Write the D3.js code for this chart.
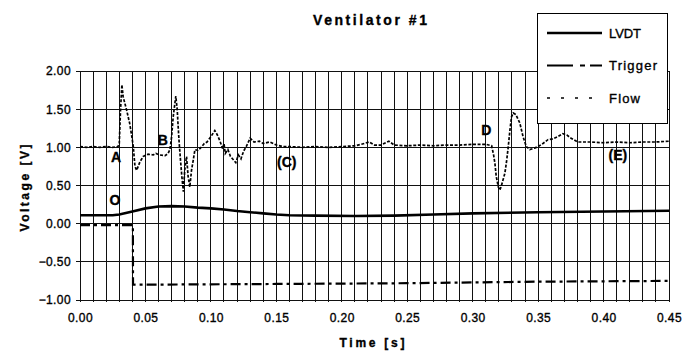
<!DOCTYPE html>
<html>
<head>
<meta charset="utf-8">
<script src="https://cdn.jsdelivr.net/npm/d3@7"></script>
<style>
	body{margin:0;background:#fff;}
	svg text{font-family:"Liberation Sans",Arial,Helvetica,sans-serif;fill:#000;}
	svg text.ink{stroke:#000;stroke-width:0.35px;}
</style>
</head>
<body>
<svg id="chart" width="696" height="352"></svg>
<script>
var X_TICKS = [0, 0.05, 0.10, 0.15, 0.20, 0.25, 0.30, 0.35, 0.40, 0.45];
var Y_TICKS = [-1, -0.5, 0, 0.5, 1, 1.5, 2];
var SERIES = ["LVDT", "Trigger", "Flow"];

// [time s, voltage V]
var LVDT = [[0,0.11],[0.025,0.11],[0.03,0.12],[0.035,0.14],[0.04,0.16],[0.05,0.20],[0.06,0.225],[0.07,0.23],[0.08,0.225],
	[0.09,0.21],[0.10,0.20],[0.11,0.185],[0.12,0.165],[0.13,0.15],[0.14,0.135],[0.15,0.12],[0.16,0.11],[0.18,0.105],
	[0.21,0.10],[0.24,0.105],[0.27,0.12],[0.30,0.135],[0.35,0.15],[0.40,0.16],[0.45,0.17]];

var TRIGGER = [[0,-0.02],[0.0404,-0.02],[0.0405,-0.80],[0.15,-0.79],[0.25,-0.78],[0.35,-0.76],[0.45,-0.75]];

var FLOW = [[0.000,1.01],[0.005,1.00],[0.010,1.01],[0.015,1.00],[0.020,1.01],[0.025,1.00],[0.029,1.01],
	[0.030,1.05],[0.031,1.50],[0.032,1.82],[0.033,1.66],[0.0356,1.49],[0.038,1.31],[0.0396,1.14],[0.0407,1.01],
	[0.042,0.75],[0.0433,0.70],[0.0458,0.81],[0.0483,0.88],[0.052,0.91],[0.056,0.90],[0.058,0.92],[0.061,0.90],
	[0.065,0.89],[0.0673,0.92],[0.0687,0.97],
	[0.070,1.14],[0.0712,1.40],[0.0725,1.58],[0.0732,1.67],[0.0743,1.49],[0.075,1.27],[0.0758,1.05],[0.0768,0.83],
	[0.0778,0.62],[0.079,0.42],[0.080,0.70],[0.0814,0.88],[0.0826,0.62],[0.0839,0.48],[0.0852,0.70],[0.0865,0.83],[0.0878,0.97],
	[0.090,0.96],[0.092,0.99],[0.095,1.05],[0.097,1.07],[0.100,1.14],[0.103,1.22],[0.105,1.16],[0.107,1.08],[0.109,0.98],
	[0.110,1.05],[0.111,0.92],[0.113,0.97],[0.115,0.88],[0.117,0.84],[0.119,0.80],[0.121,0.90],[0.123,0.85],[0.125,0.95],
	[0.127,1.01],[0.130,1.12],[0.133,1.07],[0.137,1.08],[0.140,1.05],[0.145,1.07],[0.150,1.03],[0.155,1.01],[0.160,1.01],
	[0.170,1.00],[0.180,1.01],[0.190,1.00],[0.200,1.01],[0.210,1.02],[0.215,1.04],[0.221,1.07],[0.225,1.03],[0.230,1.03],
	[0.236,1.08],[0.240,1.03],[0.250,1.02],[0.260,1.03],[0.270,1.02],[0.280,1.03],[0.290,1.03],[0.300,1.04],[0.310,1.04],[0.3145,1.02],
	[0.316,0.90],[0.317,0.79],[0.318,0.62],[0.3196,0.48],[0.3208,0.44],[0.322,0.50],[0.3246,0.66],[0.326,0.83],[0.3272,1.01],
	[0.3285,1.23],[0.3297,1.40],[0.331,1.45],[0.333,1.43],[0.336,1.32],[0.3385,1.14],[0.341,1.01],[0.3436,0.97],[0.3473,0.99],
	[0.350,1.01],[0.3537,1.05],[0.3575,1.10],[0.361,1.11],[0.365,1.14],[0.3689,1.18],[0.372,1.16],[0.3752,1.12],[0.3802,1.07],
	[0.390,1.07],[0.400,1.06],[0.410,1.07],[0.420,1.06],[0.430,1.07],[0.440,1.07],[0.450,1.08]];

// point labels written on the chart
var NOTES = [{txt:"A", t:0.0275, v:0.81}, {txt:"B", t:0.0633, v:1.03}, {txt:"(C)", t:0.158, v:0.74},
	{txt:"D", t:0.3105, v:1.16}, {txt:"(E)", t:0.411, v:0.83}, {txt:"O", t:0.0267, v:0.245}];

(function(){

	var svg = d3.select("#chart");

	var x = d3.scaleLinear().domain([0, 0.45]).range([80, 669]);
	var y = d3.scaleLinear().domain([-1, 2]).range([300, 71]);

	var fmt = d3.format(".2f");

	//GRID
	var grid = svg.append("g").attr("stroke", "#111").attr("stroke-width", 1).style("shape-rendering", "crispEdges");
	var minor = d3.range(0, 46).map(function(i){return i/100});
	grid.selectAll("line.v").data(minor).enter().append("line")
		.attr("x1", function(d){return x(d)}).attr("x2", function(d){return x(d)})
		.attr("y1", y(2)).attr("y2", y(-1) + 2);
	grid.selectAll("line.h").data(Y_TICKS).enter().append("line")
		.attr("x1", x(0) - 4).attr("x2", x(0.45))
		.attr("y1", function(d){return y(d)}).attr("y2", function(d){return y(d)});

	//AXES
	var yAxis = svg.append("g").attr("transform", "translate(" + x(0) + ",0)")
		.call(d3.axisLeft(y).tickValues(Y_TICKS).tickFormat(fmt).tickSize(0).tickPadding(9));
	var xAxis = svg.append("g").attr("transform", "translate(0," + y(-1) + ")")
		.call(d3.axisBottom(x).tickValues(X_TICKS).tickFormat(fmt).tickSize(0).tickPadding(13));
	svg.selectAll(".domain").remove();
	svg.selectAll(".tick text").classed("ink", true).style("font-size", "12px").attr("fill", "#000").style("letter-spacing", "0.4px");

	//SERIES
	var line = d3.line().x(function(d){return x(d[0])}).y(function(d){return y(d[1])});

	svg.append("path").datum(TRIGGER).attr("d", line)
		.attr("fill", "none").attr("stroke", "#000").attr("stroke-width", 2.2)
		.attr("stroke-dasharray", "10,4,3,4");

	svg.append("path").datum(LVDT).attr("d", line)
		.attr("fill", "none").attr("stroke", "#000").attr("stroke-width", 2.6);

	svg.append("path").datum(FLOW).attr("d", line)
		.attr("fill", "none").attr("stroke", "#000").attr("stroke-width", 1.7)
		.attr("stroke-dasharray", "3,1.6");

	//NOTES
	svg.selectAll("text.note").data(NOTES).enter().append("text")
		.attr("class", "note ink")
		.attr("x", function(d){return x(d.t)}).attr("y", function(d){return y(d.v)})
		.attr("text-anchor", "middle").style("font-size", "14px").style("font-weight", "bold")
		.text(function(d){return d.txt});

	//TITLES
	svg.append("text").attr("class", "ink").attr("x", 370).attr("y", 25).attr("text-anchor", "middle")
		.attr("textLength", 114).attr("lengthAdjust", "spacing")
		.style("font-size", "14px").style("font-weight", "bold").text("Ventilator #1");
	svg.append("text").attr("class", "ink").attr("x", 372).attr("y", 347).attr("text-anchor", "middle")
		.attr("textLength", 65).attr("lengthAdjust", "spacing")
		.style("font-size", "12px").style("font-weight", "bold").text("Time [s]");
	svg.append("text").attr("class", "ink").attr("transform", "translate(29,188) rotate(-90)").attr("text-anchor", "middle")
		.attr("textLength", 87).attr("lengthAdjust", "spacing")
		.style("font-size", "12px").style("font-weight", "bold").text("Voltage [V]");

	//LEGEND
	var leg = svg.append("g");
	leg.append("rect").attr("x", 537.5).attr("y", 13.5).attr("width", 130).attr("height", 110)
		.attr("fill", "#fff").attr("stroke", "#000").attr("stroke-width", 1);
	var styles = [{w:2.6, dash:null, len:32}, {w:2.2, dash:"26,7,5,5", len:48}, {w:1.5, dash:"3,11", len:31}];
	var items = leg.selectAll("g.item").data(SERIES).enter().append("g")
		.attr("transform", function(d,i){return "translate(0," + (33 + i*32.5) + ")"});
	items.append("line").attr("x1", 547).attr("x2", 602).attr("y1", 0).attr("y2", 0)
		.attr("stroke", "#000")
		.attr("stroke-width", function(d,i){return styles[i].w})
		.attr("stroke-dasharray", function(d,i){return styles[i].dash});
	items.append("text").attr("class", "ink").attr("x", 609).attr("y", 4.5)
		.attr("textLength", function(d,i){return styles[i].len}).attr("lengthAdjust", "spacing")
		.style("font-size", "13px").text(function(d){return d});

})();
</script>
</body>
</html>
